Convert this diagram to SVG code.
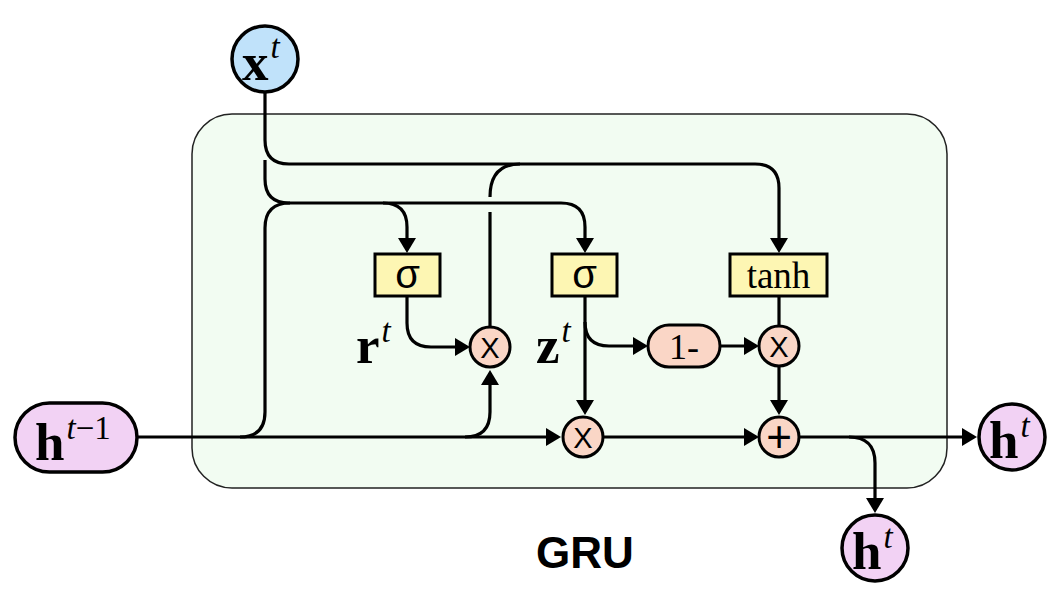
<svg xmlns="http://www.w3.org/2000/svg" width="1061" height="607" viewBox="0 0 1061 607">
<style>
.conn{fill:none;stroke:#000;stroke-width:3.2}
.arr{marker-end:url(#ah)}
.op{fill:#fad6c6;stroke:#000;stroke-width:3}
.gate{fill:#fdf6b3;stroke:#000;stroke-width:3}
.hn{fill:#f2d2f4;stroke:#000;stroke-width:3.5}
.xn{fill:#c0e2fa;stroke:#000;stroke-width:3.5}
.big{font-family:"Liberation Serif",serif;font-weight:bold;font-size:53px;fill:#000}
.sup{font-family:"Liberation Serif",serif;font-style:italic;font-weight:normal;font-size:33px}
.supn{font-family:"Liberation Serif",serif;font-style:normal;font-weight:normal;font-size:33px}
.mul{font-family:"Liberation Sans",sans-serif;font-size:29px;fill:#000;text-anchor:middle}
.pl{font-family:"Liberation Sans",sans-serif;font-size:44px;fill:#000;text-anchor:middle}
.sig{font-family:"Liberation Sans",sans-serif;font-size:40px;fill:#000;text-anchor:middle}
.serif{font-family:"Liberation Serif",serif;fill:#000;text-anchor:middle}
</style>
<defs>
<marker id="ah" viewBox="0 0 15 18" refX="12" refY="9" markerWidth="15" markerHeight="18" markerUnits="userSpaceOnUse" orient="auto">
<path d="M0,0 L15,9 L0,18 Z" fill="#000"/>
</marker>
</defs>
<g id="gru-box">
<rect x="192" y="114" width="755" height="374" rx="40" ry="40" fill="#f2fcf2" stroke="#222" stroke-width="1.5"/>
</g>
<g id="connectors">
<path class="conn arr" d="M265,92 V140 Q265,164 289,164 H755 Q779,164 779,188 V250"/>
<path class="conn arr" d="M265,160 V179 Q265,203 289,203 H561 Q585,203 585,227 V250"/>
<path class="conn arr" d="M383,203 Q407,203 407,227 V250"/>
<path class="conn" d="M240,437 Q265,437 265,412 V228 Q265,203 290,203"/>
<path class="conn arr" d="M137,437 H558"/>
<path class="conn arr" d="M465,437 Q490,437 490,412 V373"/>
<path class="conn arr" d="M407,296 V323 Q407,347 431,347 H467"/>
<path class="conn" d="M490,327 V212"/>
<path class="conn" d="M490,197 Q490,164 520,164"/>
<path class="conn arr" d="M585,296 V412"/>
<path class="conn arr" d="M585,322 Q585,346 609,346 H645"/>
<path class="conn arr" d="M720,346 H756"/>
<path class="conn" d="M779,296 V326"/>
<path class="conn arr" d="M779,366 V412"/>
<path class="conn arr" d="M603,437 H756"/>
<path class="conn arr" d="M799,437 H974"/>
<path class="conn arr" d="M849,437 Q875,437 875,463 V510"/>
</g>
<g id="x-t">
<circle class="xn" cx="265" cy="59" r="33"/>
<text class="big" x="242" y="80">x<tspan class="sup" dx="2" dy="-22">t</tspan></text>
</g>
<g id="h-prev">
<rect class="hn" x="15" y="403" width="122" height="69" rx="34.5" ry="34.5"/>
<text class="big" x="35" y="460">h<tspan class="sup" dx="2" dy="-21">t</tspan><tspan class="supn">−1</tspan></text>
</g>
<g id="sigma-r">
<rect class="gate" x="375" y="254" width="65" height="42"/>
<text class="sig" x="407.5" y="288">σ</text>
</g>
<g id="sigma-z">
<rect class="gate" x="552" y="254" width="65" height="42"/>
<text class="sig" x="584.5" y="288">σ</text>
</g>
<g id="tanh">
<rect class="gate" x="730" y="254" width="97" height="42"/>
<text class="serif" x="778.5" y="288" font-size="37">tanh</text>
</g>
<g id="r-label">
<text class="big" x="356" y="363">r<tspan class="sup" dx="2" dy="-21">t</tspan></text>
</g>
<g id="z-label">
<text class="big" x="536" y="363">z<tspan class="sup" dx="2" dy="-21">t</tspan></text>
</g>
<g id="mul-r">
<circle class="op" cx="490" cy="347" r="20"/>
<text class="mul" x="490" y="357.5">X</text>
</g>
<g id="one-minus">
<rect class="op" x="648" y="325" width="72" height="42" rx="21" ry="21"/>
<text class="serif" x="684" y="359" font-size="36">1-</text>
</g>
<g id="mul-tanh">
<circle class="op" cx="779" cy="346" r="20"/>
<text class="mul" x="779" y="356.5">X</text>
</g>
<g id="mul-z">
<circle class="op" cx="583" cy="437" r="20"/>
<text class="mul" x="583" y="447.5">X</text>
</g>
<g id="plus">
<circle class="op" cx="779" cy="437" r="20"/>
<text class="pl" x="779" y="452">+</text>
</g>
<g id="h-out-right">
<circle class="hn" cx="1012" cy="437" r="33"/>
<text class="big" x="989" y="458">h<tspan class="sup" dx="2" dy="-21">t</tspan></text>
</g>
<g id="h-out-bottom">
<circle class="hn" cx="875" cy="548" r="33"/>
<text class="big" x="852" y="569">h<tspan class="sup" dx="2" dy="-21">t</tspan></text>
</g>
<g id="title">
<text x="585" y="568" font-family="Liberation Sans,Arial,sans-serif" font-weight="bold" font-size="44" text-anchor="middle">GRU</text>
</g>
</svg>
